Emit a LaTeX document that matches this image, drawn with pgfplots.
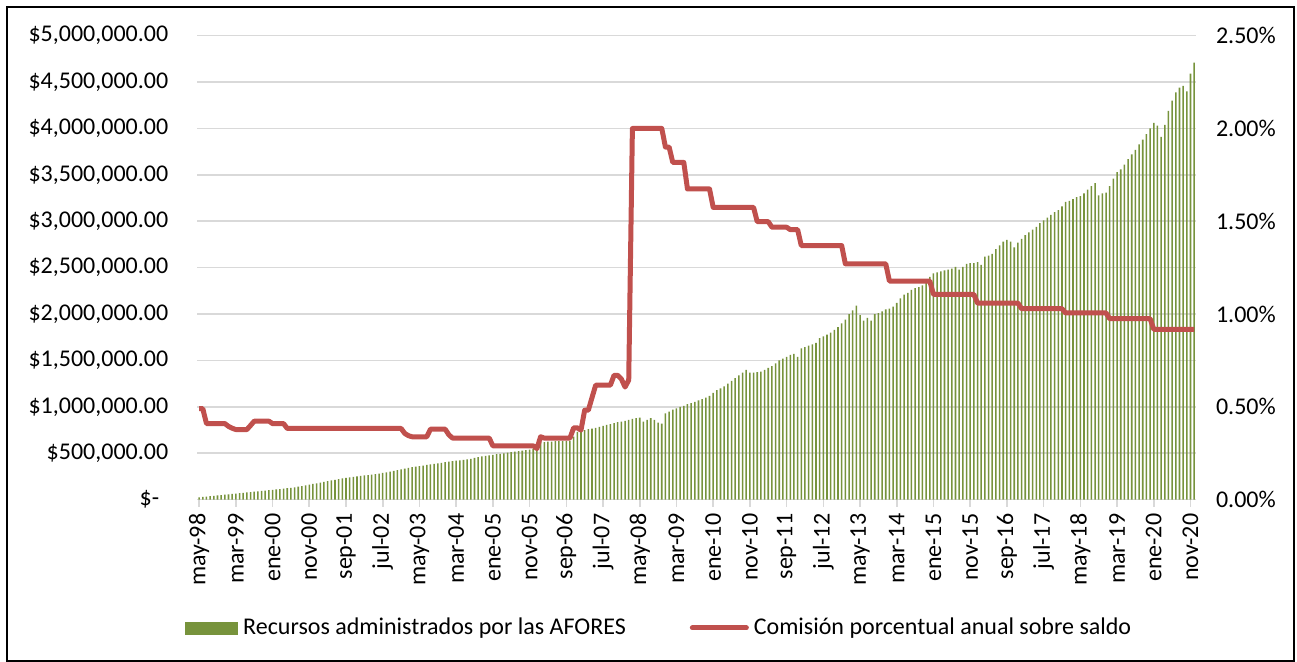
\documentclass[border=0pt]{standalone}
\usepackage{fontspec}
\setmainfont{Carlito}
\usepackage{pgfplots}
\pgfplotsset{compat=1.18}

\definecolor{afgreen}{HTML}{77933C}
\definecolor{afred}{HTML}{C0504D}
\definecolor{gridgray}{HTML}{D9D9D9}

\begin{document}
\begin{tikzpicture}
  \useasboundingbox (-98.65pt,-81.15pt) rectangle (549.85pt,249.85pt);
  \draw[line width=1pt] (-95.15pt,-80.65pt) rectangle (548.35pt,246.35pt);

  % recursos (millones de pesos), eje izquierdo
  \begin{axis}[
      at={(0,0)}, anchor=south west,
      scale only axis, width=499.35pt, height=232pt,
      xmin=-0.5, xmax=271.5, ymin=0, ymax=5,
      axis x line*=bottom, axis y line*=left,
      x axis line style={-, draw=gridgray, line width=0.8pt},
      y axis line style={draw=none},
      ymajorgrids, grid style={gridgray, line width=0.8pt},
      ytick={0,0.5,1,1.5,2,2.5,3,3.5,4,4.5,5},
      yticklabels={{\$-\rule{4.5pt}{0pt}},{\$500,000.00},{\$1,000,000.00},{\$1,500,000.00},
        {\$2,000,000.00},{\$2,500,000.00},{\$3,000,000.00},{\$3,500,000.00},
        {\$4,000,000.00},{\$4,500,000.00},{\$5,000,000.00}},
      ytick style={draw=none},
      xtick={0,10,...,270},
      xticklabels={may-98,mar-99,ene-00,nov-00,sep-01,jul-02,may-03,mar-04,
        ene-05,nov-05,sep-06,jul-07,may-08,mar-09,ene-10,nov-10,sep-11,jul-12,
        may-13,mar-14,ene-15,nov-15,sep-16,jul-17,may-18,mar-19,ene-20,nov-20},
      xtick style={draw=gridgray, line width=0.8pt},
      tick align=outside, major tick length=3.5pt,
      tick label style={font=\fontsize{12}{14}\selectfont},
      xticklabel style={rotate=90, anchor=east},
      yticklabel style={xshift=-7.5pt},
    ]
    \addplot[ybar, bar width=0.42, fill=afgreen, draw=none] coordinates {
      (0,0.025)(1,0.030)(2,0.034)(3,0.038)(4,0.042)(5,0.046)(6,0.050)(7,0.054)(8,0.058)(9,0.062)
      (10,0.066)(11,0.070)(12,0.074)(13,0.078)(14,0.082)(15,0.086)(16,0.090)(17,0.094)(18,0.098)(19,0.102)
      (20,0.106)(21,0.110)(22,0.115)(23,0.120)(24,0.124)(25,0.128)(26,0.134)(27,0.140)(28,0.147)(29,0.155)
      (30,0.162)(31,0.170)(32,0.177)(33,0.185)(34,0.192)(35,0.200)(36,0.207)(37,0.214)(38,0.222)(39,0.230)
      (40,0.236)(41,0.241)(42,0.246)(43,0.251)(44,0.256)(45,0.262)(46,0.266)(47,0.270)(48,0.275)(49,0.280)
      (50,0.288)(51,0.295)(52,0.303)(53,0.310)(54,0.318)(55,0.326)(56,0.334)(57,0.342)(58,0.350)(59,0.356)
      (60,0.362)(61,0.368)(62,0.374)(63,0.380)(64,0.386)(65,0.392)(66,0.398)(67,0.404)(68,0.410)(69,0.415)
      (70,0.420)(71,0.425)(72,0.430)(73,0.435)(74,0.440)(75,0.450)(76,0.460)(77,0.466)(78,0.472)(79,0.478)
      (80,0.484)(81,0.490)(82,0.495)(83,0.500)(84,0.506)(85,0.512)(86,0.518)(87,0.523)(88,0.528)(89,0.534)
      (90,0.540)(91,0.545)(92,0.590)(93,0.620)(94,0.620)(95,0.625)(96,0.625)(97,0.630)(98,0.630)(99,0.630)
      (100,0.635)(101,0.635)(102,0.680)(103,0.730)(104,0.740)(105,0.750)(106,0.760)(107,0.765)(108,0.775)(109,0.785)
      (110,0.795)(111,0.805)(112,0.815)(113,0.825)(114,0.835)(115,0.840)(116,0.850)(117,0.860)(118,0.870)(119,0.880)
      (120,0.885)(121,0.840)(122,0.860)(123,0.880)(124,0.860)(125,0.830)(126,0.820)(127,0.930)(128,0.950)(129,0.970)
      (130,0.985)(131,1.000)(132,1.010)(133,1.030)(134,1.040)(135,1.055)(136,1.070)(137,1.085)(138,1.100)(139,1.120)
      (140,1.150)(141,1.180)(142,1.200)(143,1.220)(144,1.250)(145,1.280)(146,1.310)(147,1.340)(148,1.370)(149,1.400)
      (150,1.370)(151,1.370)(152,1.375)(153,1.380)(154,1.400)(155,1.420)(156,1.440)(157,1.470)(158,1.500)(159,1.520)
      (160,1.540)(161,1.560)(162,1.570)(163,1.540)(164,1.630)(165,1.645)(166,1.660)(167,1.675)(168,1.690)(169,1.740)
      (170,1.760)(171,1.780)(172,1.800)(173,1.830)(174,1.860)(175,1.900)(176,1.940)(177,2.000)(178,2.040)(179,2.090)
      (180,1.990)(181,1.930)(182,1.960)(183,1.930)(184,2.000)(185,2.010)(186,2.030)(187,2.050)(188,2.060)(189,2.080)
      (190,2.120)(191,2.170)(192,2.210)(193,2.230)(194,2.260)(195,2.280)(196,2.290)(197,2.310)(198,2.350)(199,2.400)
      (200,2.440)(201,2.450)(202,2.460)(203,2.470)(204,2.480)(205,2.490)(206,2.510)(207,2.480)(208,2.510)(209,2.540)
      (210,2.550)(211,2.550)(212,2.560)(213,2.530)(214,2.620)(215,2.630)(216,2.650)(217,2.700)(218,2.740)(219,2.780)
      (220,2.800)(221,2.780)(222,2.720)(223,2.770)(224,2.810)(225,2.850)(226,2.880)(227,2.910)(228,2.940)(229,2.980)
      (230,3.010)(231,3.040)(232,3.070)(233,3.100)(234,3.120)(235,3.160)(236,3.210)(237,3.220)(238,3.240)(239,3.260)
      (240,3.270)(241,3.300)(242,3.340)(243,3.380)(244,3.410)(245,3.280)(246,3.300)(247,3.310)(248,3.380)(249,3.460)
      (250,3.530)(251,3.560)(252,3.610)(253,3.670)(254,3.720)(255,3.770)(256,3.830)(257,3.880)(258,3.940)(259,4.000)
      (260,4.060)(261,4.030)(262,3.910)(263,4.040)(264,4.190)(265,4.300)(266,4.390)(267,4.440)(268,4.460)(269,4.400)
      (270,4.590)(271,4.710)};
  \end{axis}

  % comision sobre saldo (%), eje derecho
  \begin{axis}[
      at={(0,0)}, anchor=south west,
      scale only axis, width=499.35pt, height=232pt,
      xmin=-0.5, xmax=271.5, ymin=0, ymax=2.5,
      axis x line=none, axis y line*=right,
      y axis line style={draw=none},
      ytick={0,0.5,1,1.5,2,2.5},
      yticklabels={0.00\%,0.50\%,1.00\%,1.50\%,2.00\%,2.50\%},
      ytick style={draw=none},
      yticklabel style={font=\fontsize{12}{14}\selectfont, anchor=west, xshift=6.5pt},
      legend style={draw=none, fill=none, inner sep=0pt, anchor=west,
        at={(-0.0123,-0.2765)}, font=\fontsize{12}{14}\selectfont,
        legend columns=2,
        nodes={inner sep=0pt},
        /tikz/every odd column/.append style={column sep=2.5pt},
        /tikz/every even column/.append style={column sep=32pt}},
    ]
    \addlegendimage{legend image code/.code={
        \fill[afgreen] (0pt,-3pt) rectangle (26pt,3pt);}}
    \addlegendentry{Recursos administrados por las AFORES}
    \addplot[afred, line width=2.5pt, line join=round,
      legend image code/.code={
        \draw[afred, line width=2.5pt, line cap=round] (0pt,0pt) -- (27pt,0pt);}]
      coordinates {
      (0,0.49)(1,0.49)(2,0.41)(7,0.41)(8,0.395)(9,0.385)(10,0.378)(13,0.378)
      (14,0.40)(15,0.423)(19,0.423)(20,0.41)(23,0.41)(24,0.384)(55,0.384)
      (56,0.357)(57,0.345)(58,0.339)(62,0.339)(63,0.38)(67,0.38)(68,0.35)
      (69,0.332)(79,0.332)(80,0.29)(91,0.29)(92,0.276)(93,0.339)(94,0.332)
      (101,0.332)(102,0.387)(103,0.387)(104,0.375)(105,0.482)(106,0.482)
      (107,0.55)(108,0.617)(112,0.617)(113,0.67)(114,0.67)(115,0.65)(116,0.607)
      (117,0.644)(118,2.0)(126,2.0)(127,1.90)(128,1.90)(129,1.817)(132,1.817)
      (133,1.674)(139,1.674)(140,1.575)(151,1.575)(152,1.498)(155,1.498)
      (156,1.468)(160,1.468)(161,1.455)(163,1.455)(164,1.369)(175,1.369)
      (176,1.271)(187,1.271)(188,1.178)(199,1.178)(200,1.106)(211,1.106)
      (212,1.059)(223,1.059)(224,1.029)(235,1.029)(236,1.006)(247,1.006)
      (248,0.975)(259,0.975)(260,0.918)(271,0.918)};
    \addlegendentry{Comisión porcentual anual sobre saldo}
  \end{axis}
\end{tikzpicture}
\end{document}
